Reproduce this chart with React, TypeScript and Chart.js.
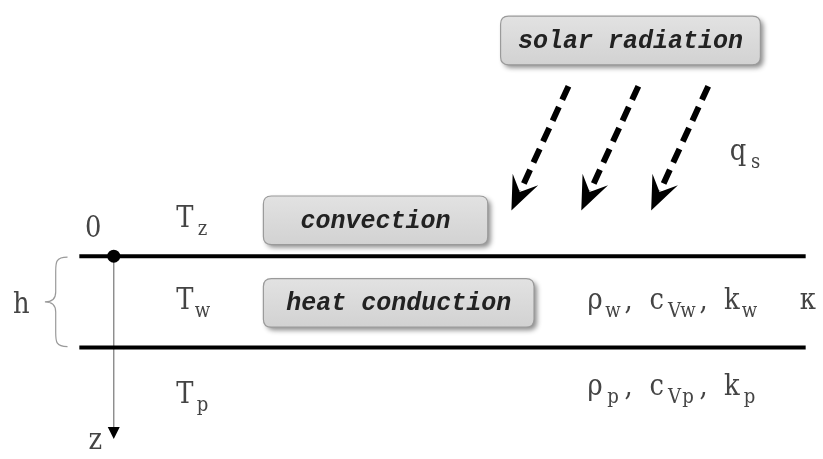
import React, { useEffect, useRef } from "react";
import { Chart, registerables } from "chart.js";

Chart.register(...registerables);

const WIDTH = 823;
const HEIGHT = 459;

// Layer boundaries (depth, diagram units)
const boundaryDepths = [257, 351];
const boundarySpan = [74, 812];
const origin = { x: 109, y: 257 };
const zAxisEnd = { x: 109, y: 445 };

// Solar radiation arrows
const radiationFrom = [
  { x: 571, y: 82 },
  { x: 642, y: 82 },
  { x: 713, y: 82 },
];
const radiationTo = [
  { x: 513, y: 210 },
  { x: 584, y: 210 },
  { x: 655, y: 210 },
];

// Process boxes
const boxLabels = ["solar radiation", "convection", "heat conduction"];
const boxLeft = [502, 261, 261];
const boxTop = [10, 195, 280];
const boxRight = [766, 489, 536];
const boxBottom = [60, 245, 330];

// Symbol labels: [main, subscript] pairs
type Part = [string, string];
const symbolLabels: { x: number; y: number; parts: Part[] }[] = [
  { x: 79, y: 237, parts: [["0", ""]] },
  { x: 172, y: 227, parts: [["T", "z"]] },
  { x: 172, y: 311, parts: [["T", "w"]] },
  { x: 172, y: 408, parts: [["T", "p"]] },
  { x: 6, y: 315, parts: [["h", ""]] },
  { x: 81, y: 455, parts: [["z", ""]] },
  { x: 734, y: 158, parts: [["q", "s"]] },
  { x: 589, y: 311, parts: [["ρ", "w"], [",", " "], ["c", "Vw"], [",", " "], ["k", "w"]] },
  { x: 805, y: 311, parts: [["κ", ""]] },
  { x: 589, y: 400, parts: [["ρ", "p"], [",", " "], ["c", "Vp"], [",", " "], ["k", "p"]] },
];

const MAIN_FONT = "30px 'DejaVu Serif', serif";
const SUB_FONT = "21px 'DejaVu Serif', serif";
const MAIN_CELL = 18;
const SUB_CELL = 13.5;
const SPACE_CELL = 10;
const SQUEEZE = 0.86;
const BOX_FONT = "italic bold 25px 'Liberation Mono', 'Courier New', monospace";
const HEAD_LEN = 34;
const HEAD_HALF = 14;

function unit(a: { x: number; y: number }, b: { x: number; y: number }) {
  const dx = b.x - a.x;
  const dy = b.y - a.y;
  const l = Math.hypot(dx, dy);
  return { x: dx / l, y: dy / l };
}

function roundRect(ctx: CanvasRenderingContext2D, x: number, y: number, w: number, h: number, r: number) {
  ctx.beginPath();
  ctx.moveTo(x + r, y);
  ctx.lineTo(x + w - r, y);
  ctx.quadraticCurveTo(x + w, y, x + w, y + r);
  ctx.lineTo(x + w, y + h - r);
  ctx.quadraticCurveTo(x + w, y + h, x + w - r, y + h);
  ctx.lineTo(x + r, y + h);
  ctx.quadraticCurveTo(x, y + h, x, y + h - r);
  ctx.lineTo(x, y + r);
  ctx.quadraticCurveTo(x, y, x + r, y);
  ctx.closePath();
}

function drawCell(ctx: CanvasRenderingContext2D, ch: string, x: number, y: number, cell: number) {
  ctx.save();
  ctx.translate(x + cell / 2, y);
  ctx.scale(SQUEEZE, 1);
  ctx.textAlign = "center";
  ctx.fillText(ch, 0, 0);
  ctx.restore();
}

const diagramPlugin = {
  id: "diagram",
  beforeDatasetsDraw(chart: any) {
    const ctx: CanvasRenderingContext2D = chart.ctx;
    const xs = chart.scales.x;
    const ys = chart.scales.y;
    // boxes
    boxLabels.forEach((label, i) => {
      const l = xs.getPixelForValue(boxLeft[i]);
      const r = xs.getPixelForValue(boxRight[i]);
      const t = ys.getPixelForValue(boxTop[i]);
      const b = ys.getPixelForValue(boxBottom[i]);
      ctx.save();
      ctx.shadowColor = "rgba(0,0,0,0.45)";
      ctx.shadowBlur = 5;
      ctx.shadowOffsetX = 3;
      ctx.shadowOffsetY = 3;
      roundRect(ctx, l, t, r - l, b - t, 8);
      const g = ctx.createLinearGradient(0, t, 0, b);
      g.addColorStop(0, "#e2e2e2");
      g.addColorStop(1, "#d2d2d2");
      ctx.fillStyle = g;
      ctx.fill();
      ctx.restore();
      ctx.save();
      roundRect(ctx, l, t, r - l, b - t, 8);
      ctx.strokeStyle = "#9a9a9a";
      ctx.lineWidth = 1.2;
      ctx.stroke();
      ctx.fillStyle = "#222";
      ctx.font = BOX_FONT;
      ctx.textAlign = "center";
      ctx.textBaseline = "middle";
      ctx.fillText(label, (l + r) / 2, (t + b) / 2 + 1);
      ctx.restore();
    });
    // brace for h
    const bx = xs.getPixelForValue(62);
    const mx = xs.getPixelForValue(50);
    const tipx = xs.getPixelForValue(39);
    const y0 = ys.getPixelForValue(boundaryDepths[0]);
    const y1 = ys.getPixelForValue(boundaryDepths[1]);
    const ym = (y0 + y1) / 2;
    ctx.save();
    ctx.strokeStyle = "#9a9a9a";
    ctx.lineWidth = 1.2;
    ctx.beginPath();
    ctx.moveTo(bx, y0 + 1);
    ctx.bezierCurveTo(mx, y0 + 1, mx, y0 + 6, mx, y0 + 15);
    ctx.lineTo(mx, ym - 10);
    ctx.bezierCurveTo(mx, ym - 3, mx - 4, ym, tipx, ym);
    ctx.bezierCurveTo(mx - 4, ym, mx, ym + 3, mx, ym + 10);
    ctx.lineTo(mx, y1 - 15);
    ctx.bezierCurveTo(mx, y1 - 6, mx, y1 - 1, bx, y1 - 1);
    ctx.stroke();
    ctx.restore();
  },
  afterDatasetsDraw(chart: any) {
    const ctx: CanvasRenderingContext2D = chart.ctx;
    const xs = chart.scales.x;
    const ys = chart.scales.y;
    // radiation arrowheads
    radiationTo.forEach((tip, i) => {
      const u = unit(radiationFrom[i], tip);
      const tx = xs.getPixelForValue(tip.x);
      const ty = ys.getPixelForValue(tip.y);
      const nx = -u.y;
      const ny = u.x;
      ctx.save();
      ctx.fillStyle = "#000";
      ctx.beginPath();
      ctx.moveTo(tx, ty);
      ctx.lineTo(tx - HEAD_LEN * u.x + HEAD_HALF * nx, ty - HEAD_LEN * u.y + HEAD_HALF * ny);
      ctx.lineTo(tx - 0.6 * HEAD_LEN * u.x, ty - 0.6 * HEAD_LEN * u.y);
      ctx.lineTo(tx - HEAD_LEN * u.x - HEAD_HALF * nx, ty - HEAD_LEN * u.y - HEAD_HALF * ny);
      ctx.closePath();
      ctx.fill();
      ctx.restore();
    });
    // z axis arrowhead
    const zx = xs.getPixelForValue(zAxisEnd.x);
    const zy = ys.getPixelForValue(zAxisEnd.y);
    ctx.save();
    ctx.fillStyle = "#000";
    ctx.beginPath();
    ctx.moveTo(zx, zy);
    ctx.lineTo(zx - 6, zy - 12);
    ctx.lineTo(zx + 6, zy - 12);
    ctx.closePath();
    ctx.fill();
    ctx.restore();
    // symbols, laid out in typewriter-like cells
    ctx.save();
    ctx.fillStyle = "#444";
    ctx.textBaseline = "alphabetic";
    symbolLabels.forEach((lab) => {
      let x = xs.getPixelForValue(lab.x);
      const y = ys.getPixelForValue(lab.y);
      lab.parts.forEach(([main, sub]) => {
        ctx.font = MAIN_FONT;
        for (const ch of main) {
          drawCell(ctx, ch, x, y, MAIN_CELL);
          x += MAIN_CELL;
        }
        if (sub === " ") {
          x += SPACE_CELL;
        } else if (sub) {
          x += 2;
          ctx.font = SUB_FONT;
          for (const ch of sub) {
            drawCell(ctx, ch, x, y + 8, SUB_CELL);
            x += SUB_CELL;
          }
        }
      });
    });
    ctx.restore();
  },
};

export default function App() {
  const ref = useRef<HTMLCanvasElement>(null);
  useEffect(() => {
    if (!ref.current) return;
    const datasets: any[] = [];
    datasets.push({
      data: [origin],
      showLine: false,
      pointRadius: 6.5,
      pointBackgroundColor: "#000",
      pointBorderWidth: 0,
      order: 0,
    });
    boundaryDepths.forEach((d) => {
      datasets.push({
        data: [
          { x: boundarySpan[0], y: d },
          { x: boundarySpan[1], y: d },
        ],
        showLine: true,
        borderColor: "#000",
        borderWidth: 4,
        pointRadius: 0,
        order: 1,
      });
    });
    datasets.push({
      data: [origin, { x: zAxisEnd.x, y: zAxisEnd.y - 8 }],
      showLine: true,
      borderColor: "#777",
      borderWidth: 1.2,
      pointRadius: 0,
      order: 2,
    });
    radiationFrom.forEach((from, i) => {
      const tip = radiationTo[i];
      const u = unit(from, tip);
      datasets.push({
        data: [from, { x: tip.x - 0.65 * HEAD_LEN * u.x, y: tip.y - 0.65 * HEAD_LEN * u.y }],
        showLine: true,
        borderColor: "#000",
        borderWidth: 6,
        borderDash: [15, 8],
        borderCapStyle: "butt",
        pointRadius: 0,
        order: 3,
      });
    });
    datasets.forEach((d) => (d.clip = false));
    const chart = new Chart(ref.current, {
      type: "scatter",
      data: { datasets },
      options: {
        animation: false,
        responsive: false,
        events: [],
        layout: { padding: 0 },
        scales: {
          x: { type: "linear", min: 0, max: WIDTH, display: false },
          y: { type: "linear", min: 0, max: HEIGHT, reverse: true, display: false },
        },
        plugins: { legend: { display: false }, tooltip: { enabled: false } },
      },
      plugins: [diagramPlugin],
    });
    return () => chart.destroy();
  }, []);
  return (
    <div style={{ position: "absolute", left: 0, top: 0, width: WIDTH, height: HEIGHT, background: "#fff" }}>
      <canvas ref={ref} width={WIDTH} height={HEIGHT} style={{ display: "block" }} />
    </div>
  );
}
